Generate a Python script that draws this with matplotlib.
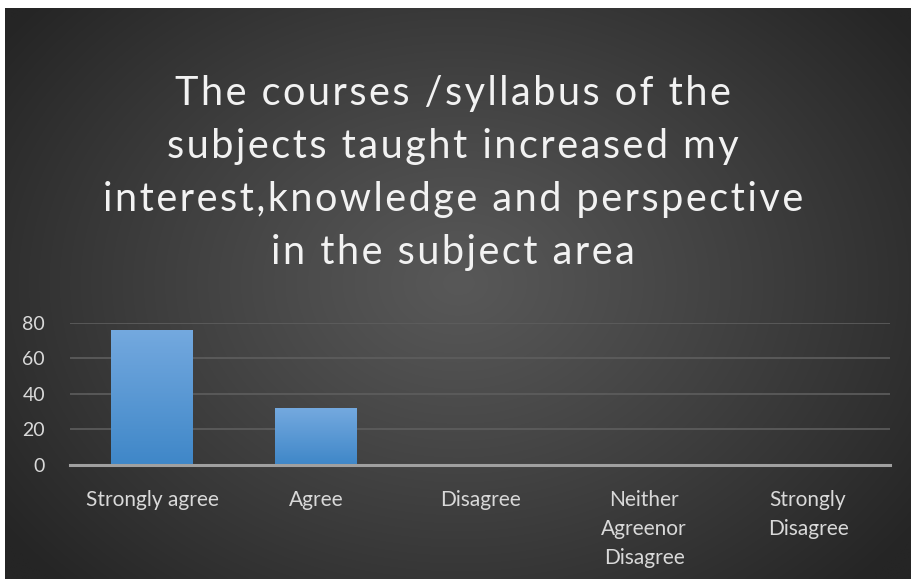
import numpy as np
import matplotlib
matplotlib.use("Agg")
import matplotlib.pyplot as plt

categories = ["Strongly agree", "Agree", "Disagree", "Neither\nAgreenor\nDisagree", "Strongly\nDisagree"]
values = [76, 32, 0, 0, 0]
yticks = [0, 20, 40, 60, 80]
title = ("The courses /syllabus of the\nsubjects taught increased my\n"
         "interest,knowledge and perspective\nin the subject area")

W, H = 911, 579
fig = plt.figure(figsize=(W / 100, H / 100), dpi=100)
fig.patch.set_facecolor("white")

# background with radial gradient
bg = fig.add_axes([5 / W, 0, (W - 5) / W, (H - 8) / H])
bg.set_axis_off()
ny, nx = 300, 480
yy, xx = np.mgrid[0:ny, 0:nx]
cx, cy = nx * 0.5, ny * 0.48
r = np.sqrt(((xx - cx) / (nx * 0.62)) ** 2 + ((yy - cy) / (ny * 0.75)) ** 2)
r = np.clip(r, 0, 1)
c_in, c_out = 0x58 / 255, 0x25 / 255
g = c_in + (c_out - c_in) * r ** 1.1
img = np.dstack([g, g, g])
bg.imshow(img, extent=[0, 1, 0, 1], aspect="auto", interpolation="bilinear")
bg.set_xlim(0, 1)
bg.set_ylim(0, 1)

# expanded letter spacing for the title
spaced = "\n".join("\u200a".join(line) for line in title.split("\n"))
fig.text(453 / W, 1 - 173 / H, spaced, ha="center", va="center", color="#f2f2f2",
         fontsize=28.5, family=["Lato", "DejaVu Sans"], linespacing=1.54)

ax = fig.add_axes([70 / W, 1 - 465 / H, 820 / W, (465 - 322.7) / H])
ax.patch.set_alpha(0)
x = np.arange(len(categories))
bars = ax.bar(x, values, width=0.5, color="#5b9bd5", zorder=3)

# vertical gradient on bars
grad = np.linspace(0, 1, 100).reshape(-1, 1)
top_c = np.array([0x74, 0xa9, 0xdf]) / 255
bot_c = np.array([0x3f, 0x87, 0xc8]) / 255
gimg = bot_c + (top_c - bot_c) * grad[..., None]
for b in bars:
    if b.get_height() <= 0:
        continue
    x0, w, h = b.get_x(), b.get_width(), b.get_height()
    im = ax.imshow(gimg, extent=[x0, x0 + w, 0, h], origin="lower", aspect="auto",
                   zorder=4, interpolation="bilinear")
    im.set_clip_path(b)

ax.set_xlim(-0.5, len(categories) - 0.5)
ax.set_ylim(0, 80)
ax.set_yticks(yticks)
ax.yaxis.grid(True, color="#5e5e5e", lw=1.2, zorder=1)
ax.set_axisbelow(True)
for s in ["top", "right", "left"]:
    ax.spines[s].set_visible(False)
ax.spines["bottom"].set_color("#a0a0a0")
ax.spines["bottom"].set_linewidth(2.2)
ax.spines["bottom"].set_zorder(5)
ax.tick_params(axis="both", length=0, colors="#d9d9d9")
ax.tick_params(axis="y", pad=18, labelsize=14)
ax.tick_params(axis="x", pad=18, labelsize=15)
ax.set_xticks(x)
ax.set_xticklabels(categories, family="Lato", linespacing=1.55)
for lab in ax.get_yticklabels():
    lab.set_family("Lato")

fig.savefig("out.png", dpi=100, facecolor=fig.get_facecolor())
